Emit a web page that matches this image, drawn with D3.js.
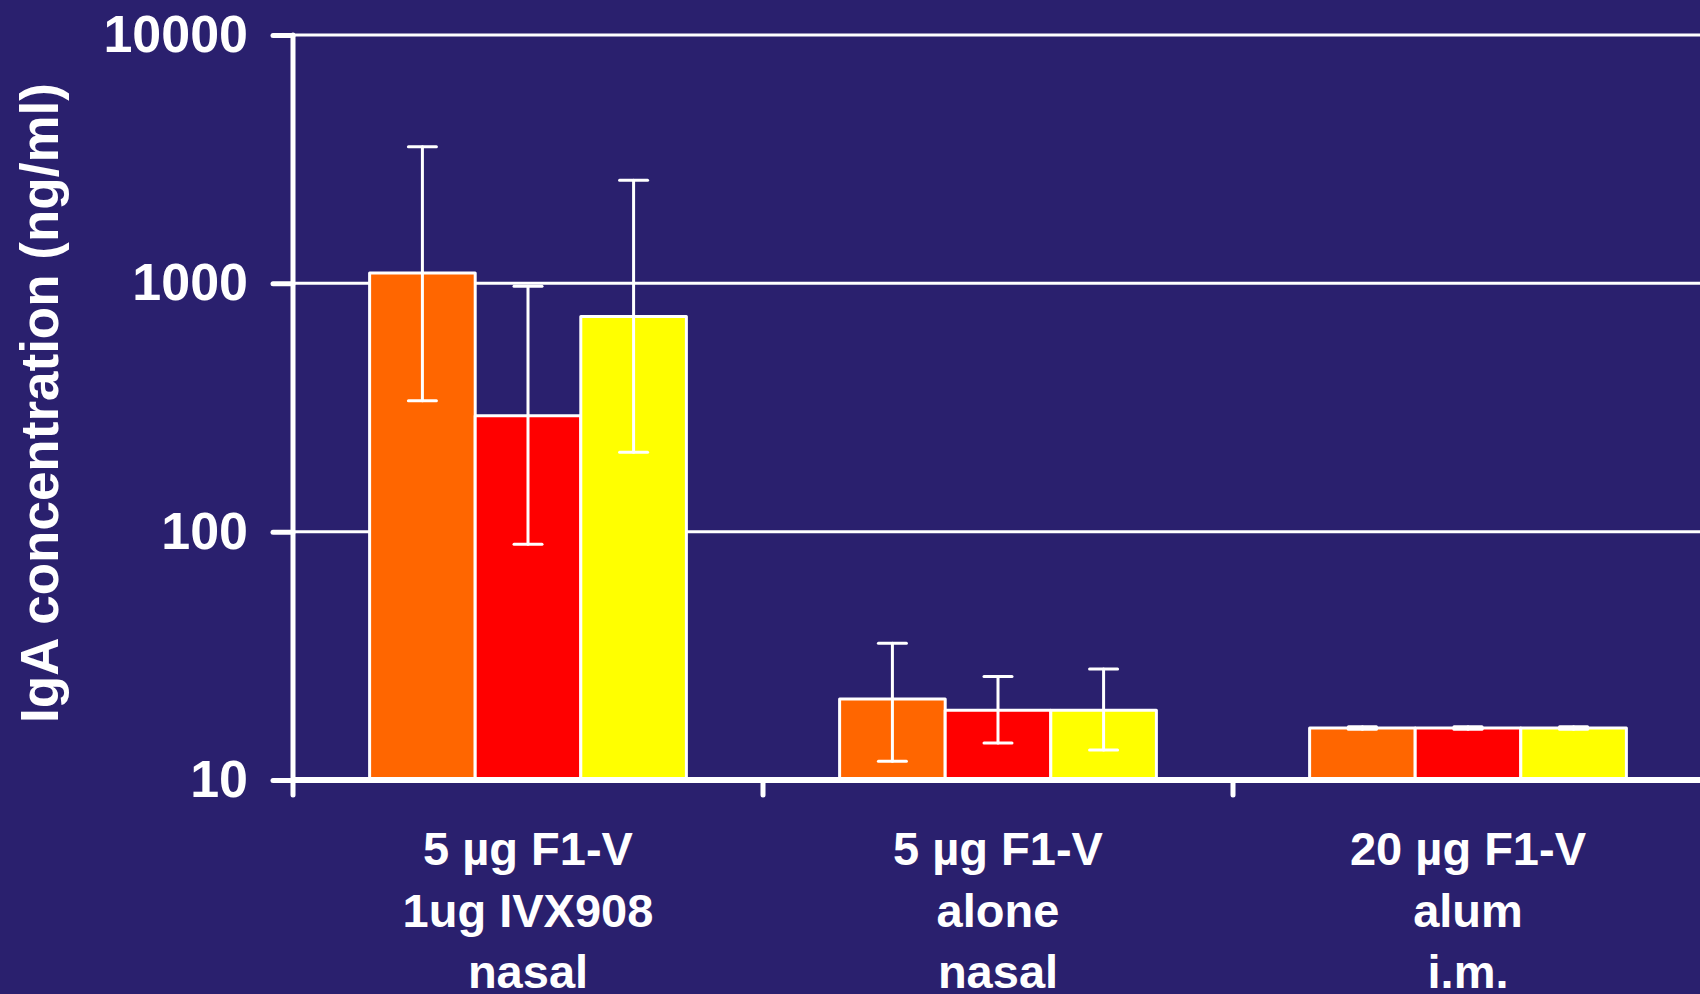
<!DOCTYPE html>
<html>
<head>
<meta charset="utf-8">
<script src="https://cdn.jsdelivr.net/npm/d3@7"></script>
<style>
  html, body { margin: 0; padding: 0; background: #2a206e; }
  svg { display: block; }
  text { font-family: "Liberation Sans", Arial, sans-serif; font-weight: bold; fill: #ffffff; }
</style>
</head>
<body>
<svg id="chart" width="1700" height="994"></svg>
<script>
// Groups (vaccine regimen), three lines of label each
const groups = ["g1", "g2", "g3"];
const groupLabels = [
  ["5 µg F1-V", "1ug IVX908", "nasal"],
  ["5 µg F1-V", "alone", "nasal"],
  ["20 µg F1-V", "alum", "i.m."]
];
// Three series per group
const series = ["s1", "s2", "s3"];
const seriesColors = ["#ff6600", "#ff0000", "#ffff00"];

// IgA concentration (ng/ml): mean, lower and upper error limits
const means = [
  [1100, 293, 735],
  [21.2, 19.1, 19.1],
  [16.2, 16.2, 16.2]
];
const lows = [
  [337, 89, 209],
  [11.9, 14.1, 13.2],
  [16.0, 16.0, 16.0]
];
const highs = [
  [3550, 973, 2600],
  [35.5, 26.1, 28.0],
  [16.4, 16.4, 16.4]
];

const yTicks = [10, 100, 1000, 10000];
const yTitle = "IgA concentration (ng/ml)";

const svg = d3.select("#chart");
const W = 1700;
const axisX = 293, yTop = 35, yBottom = 780;

const y = d3.scaleLog().domain([10, 10000]).range([yBottom, yTop]);
const x = d3.scaleBand().domain(groups).range([axisX, 1703]).padding(0);
const bw = x.bandwidth();
const xs = d3.scaleBand().domain(series).range([bw * 0.163, bw * 0.837]).padding(0);

// Horizontal grid lines
svg.append("g").selectAll("line").data(yTicks.filter(t => t > 10)).join("line")
  .attr("x1", axisX).attr("x2", W)
  .attr("y1", d => y(d)).attr("y2", d => y(d))
  .attr("stroke", "#ffffff").attr("stroke-width", 3);

// Bars
const gGroups = svg.append("g").selectAll("g").data(groups).join("g")
  .attr("transform", d => `translate(${x(d)},0)`);

gGroups.selectAll("rect").data((g, gi) => series.map((s, si) => ({ s, si, v: means[gi][si] })))
  .join("rect")
  .attr("x", d => xs(d.s))
  .attr("width", xs.bandwidth())
  .attr("y", d => y(d.v))
  .attr("height", d => yBottom - y(d.v))
  .attr("fill", d => seriesColors[d.si])
  .attr("stroke", "#ffffff").attr("stroke-width", 3)
  .attr("stroke-linejoin", "round");

// Error bars
const capW = 28;
const eb = gGroups.selectAll("g.err").data((g, gi) => series.map((s, si) => ({
  s, lo: lows[gi][si], hi: highs[gi][si]
}))).join("g").attr("class", "err")
  .attr("stroke", "#ffffff").attr("stroke-width", 3).attr("stroke-linecap", "round");

eb.append("line")
  .attr("x1", d => xs(d.s) + xs.bandwidth() / 2).attr("x2", d => xs(d.s) + xs.bandwidth() / 2)
  .attr("y1", d => y(d.lo)).attr("y2", d => y(d.hi));
eb.append("line")
  .attr("x1", d => xs(d.s) + xs.bandwidth() / 2 - capW / 2).attr("x2", d => xs(d.s) + xs.bandwidth() / 2 + capW / 2)
  .attr("y1", d => y(d.hi)).attr("y2", d => y(d.hi));
eb.append("line")
  .attr("x1", d => xs(d.s) + xs.bandwidth() / 2 - capW / 2).attr("x2", d => xs(d.s) + xs.bandwidth() / 2 + capW / 2)
  .attr("y1", d => y(d.lo)).attr("y2", d => y(d.lo));

// Y axis
const yAxis = svg.append("g").attr("transform", `translate(${axisX},0)`)
  .call(d3.axisLeft(y).tickValues(yTicks).tickFormat(d3.format("d")).tickSize(20).tickPadding(25));
yAxis.select(".domain").remove();
yAxis.selectAll(".tick line").attr("stroke", "#ffffff").attr("stroke-width", 5).attr("stroke-linecap", "round");
yAxis.selectAll(".tick text")
  .style("font-family", '"Liberation Sans", Arial, sans-serif')
  .style("font-weight", "bold").style("font-size", "52px").attr("fill", "#ffffff");
yAxis.append("line")
  .attr("x1", 0).attr("x2", 0).attr("y1", yTop).attr("y2", yBottom + 15)
  .attr("stroke", "#ffffff").attr("stroke-width", 5).attr("stroke-linecap", "round");

// X axis
const xAxis = svg.append("g").attr("transform", `translate(0,${yBottom})`);
xAxis.append("line").attr("x1", axisX).attr("x2", W).attr("y1", 0).attr("y2", 0)
  .attr("stroke", "#ffffff").attr("stroke-width", 6);
xAxis.selectAll("line.tk").data(groups.slice(1)).join("line").attr("class", "tk")
  .attr("x1", d => x(d)).attr("x2", d => x(d)).attr("y1", 0).attr("y2", 15)
  .attr("stroke", "#ffffff").attr("stroke-width", 5).attr("stroke-linecap", "round");

// Group labels
const lbl = svg.append("g").selectAll("text").data(groups).join("text")
  .attr("text-anchor", "middle")
  .style("font-size", "47px");
lbl.each(function(d, i) {
  const t = d3.select(this);
  groupLabels[i].forEach((line, k) => {
    t.append("tspan").attr("x", x(d) + bw / 2).attr("y", 865 + k * 61.5).text(line);
  });
});

// Y axis title
svg.append("text")
  .attr("transform", `translate(58,403) rotate(-90)`)
  .attr("text-anchor", "middle")
  .style("font-size", "53px")
  .text(yTitle);
</script>
</body>
</html>
